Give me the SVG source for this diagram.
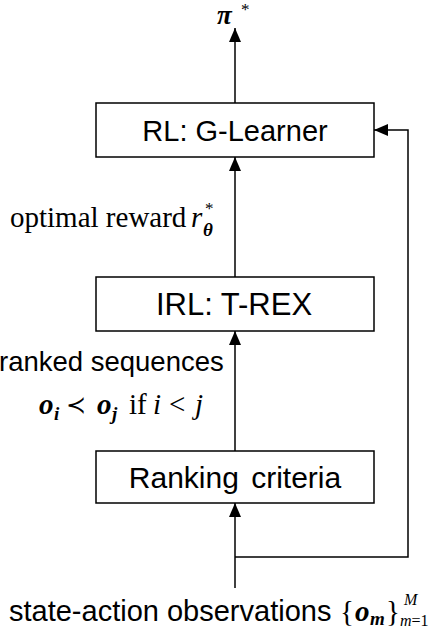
<svg xmlns="http://www.w3.org/2000/svg" width="430" height="630" viewBox="0 0 430 630">
<defs>
<style>
.box{fill:#fff;stroke:#000;stroke-width:1.5}
.lbl{font-family:"Liberation Sans",Arial,sans-serif;font-size:29px;fill:#000}
.ser{font-family:"Liberation Serif","Times New Roman",serif;font-size:29px;fill:#000}
.sm{font-size:19px}
.xs{font-size:16px}
.sup{font-size:17px}
.bi{font-style:italic;font-weight:bold}
.it{font-style:italic}
.ln{fill:none;stroke:#000;stroke-width:1.5}
</style>
<marker id="ah" viewBox="0 0 14 12" refX="14" refY="6" markerWidth="14" markerHeight="12" markerUnits="userSpaceOnUse" orient="auto">
<path d="M0,0 L14,6 L0,12 z" fill="#000"/>
</marker>
</defs>
<g id="connectors">
<line class="ln" x1="235" y1="103" x2="235" y2="28" marker-end="url(#ah)"/>
<line class="ln" x1="235" y1="277" x2="235" y2="157" marker-end="url(#ah)"/>
<line class="ln" x1="235" y1="451" x2="235" y2="331" marker-end="url(#ah)"/>
<line class="ln" x1="235" y1="588" x2="235" y2="503" marker-end="url(#ah)"/>
<polyline class="ln" points="235,557 408,557 408,130 374,130" marker-end="url(#ah)"/>
</g>
<g id="pi">
<text x="217" y="24" class="ser bi" style="font-size:27px">π</text>
<text x="241" y="15" class="ser sup">*</text>
</g>
<g id="rl">
<rect class="box" x="96" y="103" width="278" height="54"/>
<text x="235" y="141" class="lbl" text-anchor="middle">RL: G-Learner</text>
</g>
<g id="reward-label">
<text x="10" y="227" class="ser">optimal reward</text>
<text x="191" y="227" class="ser it">r</text>
<text x="203" y="236" class="ser bi sm">θ</text>
<text x="205" y="214" class="ser sup">*</text>
</g>
<g id="irl">
<rect class="box" x="96" y="277" width="278" height="54"/>
<text x="234" y="315" class="lbl" text-anchor="middle" style="font-size:31px">IRL: T-REX</text>
</g>
<g id="ranked-label">
<text x="-1" y="371" class="lbl" style="font-size:27.5px">ranked sequences</text>
<text x="39" y="414" class="ser bi">o</text>
<text x="54" y="420" class="ser bi sm">i</text>
<text x="66" y="413" font-family="'DejaVu Sans',sans-serif" style="font-size:24px">≺</text>
<text x="97" y="414" class="ser bi">o</text>
<text x="112" y="420" class="ser bi sm">j</text>
<text x="129" y="414" class="ser">if</text>
<text x="153" y="414" class="ser it">i</text>
<text x="169" y="414" class="ser">&lt;</text>
<text x="195" y="414" class="ser it">j</text>
</g>
<g id="ranking">
<rect class="box" x="96" y="451" width="278" height="52"/>
<text x="235" y="488" class="lbl" text-anchor="middle" style="font-size:30px" word-spacing="4">Ranking criteria</text>
</g>
<g id="obs-label">
<text x="9" y="621" class="lbl">state-action observations</text>
<text x="340" y="621" class="ser">{</text>
<text x="355" y="621" class="ser bi">o</text>
<text x="370" y="625" class="ser bi sm">m</text>
<text x="386" y="621" class="ser">}</text>
<text x="400" y="626" class="ser xs"><tspan class="it">m</tspan>=1</text>
<text x="404" y="605" class="ser it xs">M</text>
</g>
</svg>
